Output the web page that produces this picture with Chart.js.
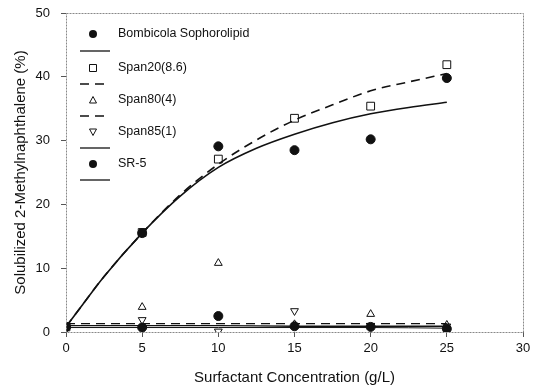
<!DOCTYPE html>
<html>
<head>
<meta charset="utf-8">
<script src="https://cdn.jsdelivr.net/npm/chart.js@4/dist/chart.umd.min.js"></script>
<style>
  html, body { margin: 0; padding: 0; background: #fff; }
  #wrap { width: 538px; height: 392px; }
</style>
</head>
<body>
<div id="wrap"><canvas id="graph"></canvas></div>
<script>
// ---- data ----
const concentrations = [0, 5, 10, 15, 20, 25];
const bombicola = [0.8, 15.5, 29.1, 28.5, 30.2, 39.8];
const span20 = [0.8, 15.6, 27.1, 33.5, 35.4, 41.9];
const span80 = [0.8, 3.9, 10.8, 1.2, 2.8, 1.1];
const span85 = [0.8, 1.9, 0.1, 3.3, 1.0, 0.9];
const sr5 = [0.8, 0.7, 2.5, 0.9, 0.8, 0.5];

// fitted curves (read at a few x positions)
const fitX = [0, 1, 2.5, 5, 7.5, 10, 12.5, 15, 17.5, 20, 22.5, 25];
const bombicolaFit = [0.8, 4.0, 8.7, 15.5, 21.3, 25.8, 28.8, 31.0, 32.8, 34.2, 35.2, 36.0];
const span20Fit = [0.8, 4.0, 8.7, 15.5, 21.5, 26.3, 30.1, 33.2, 35.6, 37.8, 39.2, 40.5];
const span80Fit = [1.3, 1.3, 1.3, 1.3, 1.3, 1.3];
const span85Fit = [1.0, 1.0, 1.0, 0.9, 0.9, 0.9];
const sr5Fit = [0.7, 0.7, 0.7, 0.7, 0.7, 0.6];

const xTicks = [0, 5, 10, 15, 20, 25, 30];
const yTicks = [0, 10, 20, 30, 40, 50];

const legendNames = ["Bombicola Sophorolipid", "Span20(8.6)", "Span80(4)", "Span85(1)", "SR-5"];

const fontFam = "'Liberation Sans', Arial, sans-serif";
const ink = "#111";

function pts(xs, ys) {
  return xs.map((x, i) => ({ x: x, y: ys[i] }));
}

function markerSet(label, ys, style, filled, r) {
  return {
    label: label,
    data: pts(concentrations, ys),
    showLine: false,
    pointStyle: style,
    pointRadius: r,
    pointBorderWidth: 1,
    pointBorderColor: ink,
    pointBackgroundColor: filled ? ink : "rgba(255,255,255,0)",
    order: 1
  };
}

function fitSet(label, xs, ys, dash, width) {
  return {
    label: label,
    data: pts(xs, ys),
    showLine: true,
    borderColor: ink,
    borderWidth: width,
    borderDash: dash,
    pointRadius: 0,
    tension: 0.4,
    cubicInterpolationMode: "monotone",
    order: 2
  };
}

const datasets = [
  markerSet(legendNames[0], bombicola, "circle", true, 4.5),
  fitSet("fit1", fitX, bombicolaFit, [], 1.6),
  markerSet(legendNames[1], span20, "rect", false, 5.5),
  fitSet("fit2", fitX, span20Fit, [9, 6], 1.6),
  markerSet(legendNames[2], span80, "triangle", false, 4.5),
  fitSet("fit3", concentrations, span80Fit, [9, 6], 1.3),
  markerSet(legendNames[3], span85, "triangle", false, 4.5),
  fitSet("fit4", concentrations, span85Fit, [], 1.3),
  markerSet(legendNames[4], sr5, "circle", true, 4.5),
  fitSet("fit5", concentrations, sr5Fit, [], 1)
];
// downward triangle for Span85
datasets[6].rotation = 180;

// legend drawn inside the plot
const legendPlugin = {
  id: "innerLegend",
  afterDraw(chart) {
    const ctx = chart.ctx;
    ctx.save();
    ctx.fillStyle = ink;
    ctx.strokeStyle = ink;
    ctx.font = "12.5px " + fontFam;
    ctx.textBaseline = "middle";
    const rows = [34, 51, 68, 84, 100, 116, 132, 148, 164, 180];
    datasets.forEach((ds, i) => {
      const y = rows[i];
      if (ds.showLine) {
        ctx.lineWidth = 1.3;
        ctx.setLineDash(ds.borderDash);
        ctx.beginPath();
        ctx.moveTo(80, y);
        ctx.lineTo(110, y);
        ctx.stroke();
        ctx.setLineDash([]);
      } else {
        const x = 93;
        ctx.lineWidth = 1;
        ctx.beginPath();
        if (ds.pointStyle === "circle") {
          ctx.arc(x, y, 4, 0, Math.PI * 2);
          ctx.fill();
        } else if (ds.pointStyle === "rect") {
          ctx.rect(x - 3.5, y - 3.5, 7, 7);
          ctx.stroke();
        } else {
          const d = ds.rotation ? -1 : 1;
          ctx.moveTo(x, y - 3.5 * d);
          ctx.lineTo(x + 3.5, y + 3 * d);
          ctx.lineTo(x - 3.5, y + 3 * d);
          ctx.closePath();
          ctx.stroke();
        }
        ctx.fillText(ds.label, 118, y);
      }
    });
    // frame
    const a = chart.chartArea;
    ctx.strokeStyle = "#888";
    ctx.lineWidth = 1;
    ctx.setLineDash([2, 1]);
    ctx.strokeRect(a.left + 0.5, a.top + 0.5, a.right - a.left, a.bottom - a.top);
    ctx.restore();
  }
};

new Chart(document.getElementById("graph"), {
  type: "scatter",
  data: { datasets: datasets },
  plugins: [legendPlugin],
  options: {
    responsive: true,
    maintainAspectRatio: false,
    animation: false,
    layout: { padding: { top: 13, right: 15, left: 0, bottom: 0 } },
    plugins: { legend: { display: false }, tooltip: { enabled: false } },
    scales: {
      x: {
        type: "linear",
        min: 0,
        max: 30,
        afterBuildTicks: s => { s.ticks = xTicks.map(v => ({ value: v })); },
        afterFit: s => { s.height = 60; s.paddingLeft = 0; s.paddingRight = 0; },
        grid: { drawOnChartArea: false, tickLength: 5, color: "#555" },
        border: { display: false },
        ticks: { color: ink, padding: 4, font: { size: 13, family: fontFam } },
        title: { display: true, text: "Surfactant Concentration (g/L)", color: ink, padding: { top: 0, bottom: 5 }, font: { size: 15, family: fontFam } }
      },
      y: {
        min: 0,
        max: 50,
        afterBuildTicks: s => { s.ticks = yTicks.map(v => ({ value: v })); },
        afterFit: s => { s.width = 66; s.paddingTop = 0; s.paddingBottom = 0; },
        grid: { drawOnChartArea: false, tickLength: 5, color: "#555" },
        border: { display: false },
        ticks: { color: ink, padding: 11, font: { size: 13, family: fontFam } },
        title: { display: true, text: "Solubilized 2-Methylnaphthalene (%)", color: ink, padding: { top: 12, bottom: 0 }, font: { size: 15, family: fontFam } }
      }
    }
  }
});
</script>
</body>
</html>
